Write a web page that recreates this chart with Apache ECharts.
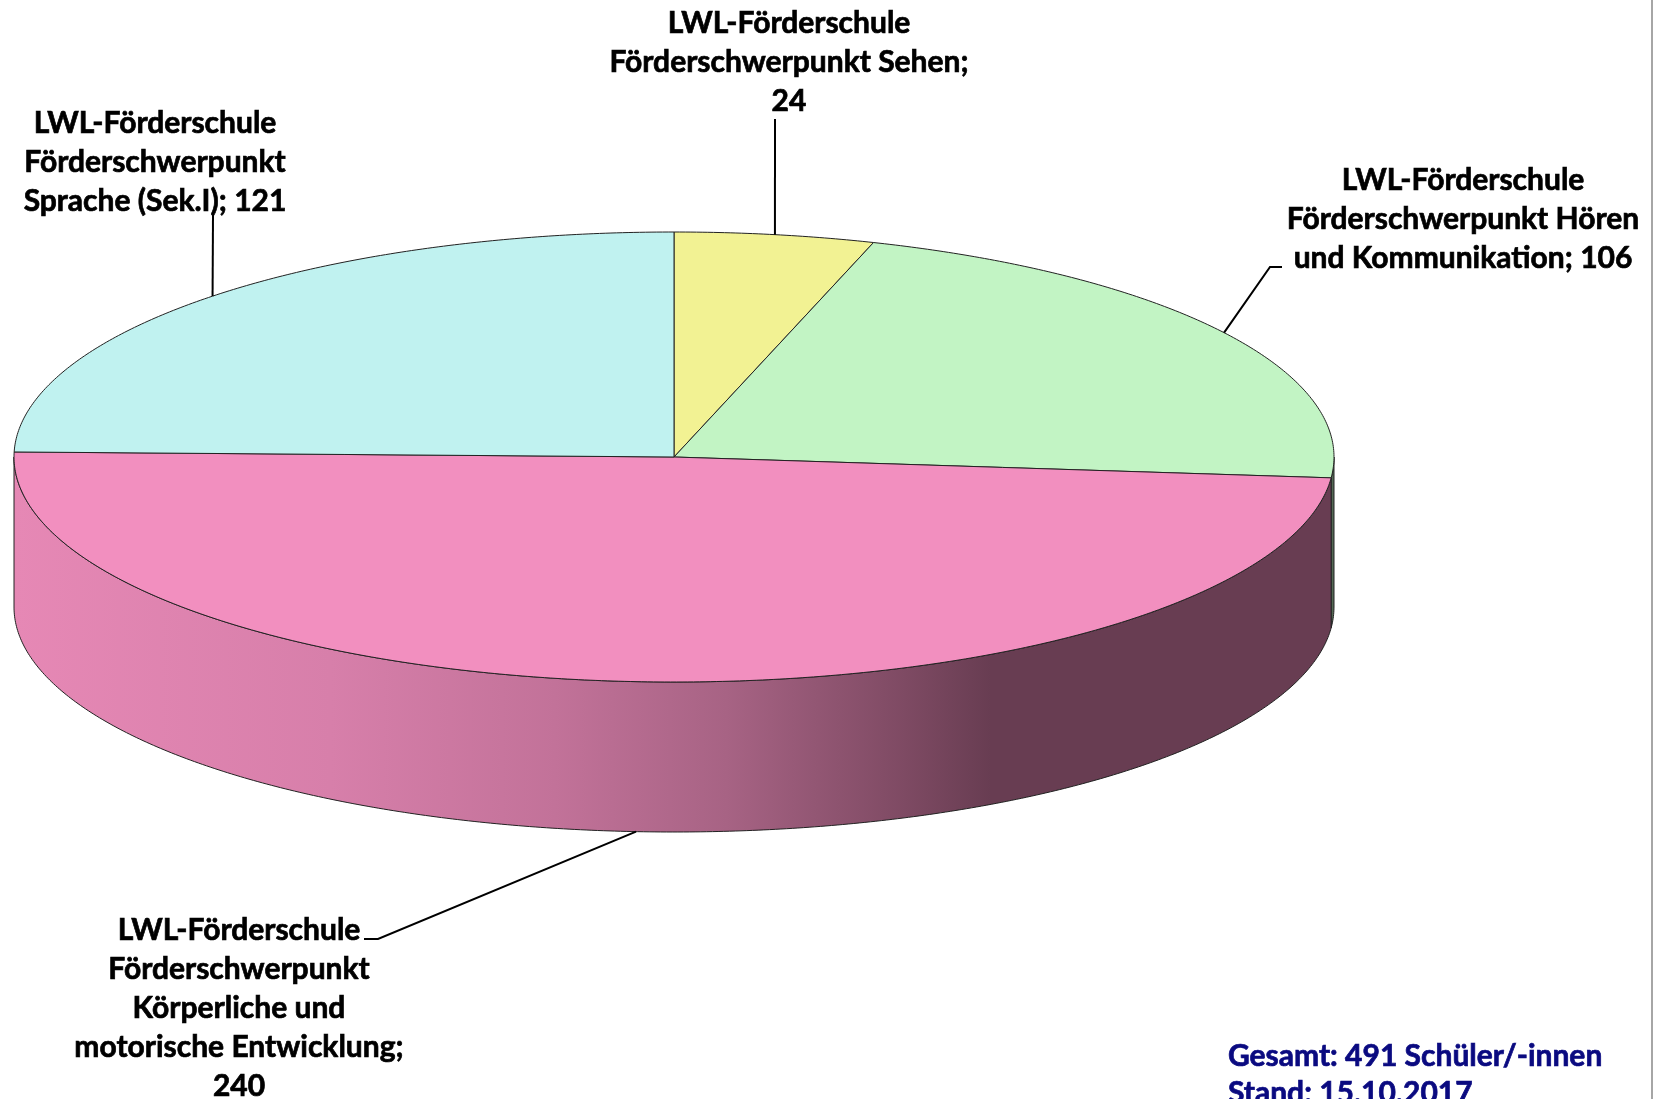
<!DOCTYPE html>
<html>
<head>
<meta charset="utf-8">
<title>LWL-Förderschulen</title>
<script src="https://cdn.jsdelivr.net/npm/echarts@6/dist/echarts.min.js"></script>
<style>
  html, body { margin: 0; padding: 0; background: #fff; }
  #chart { width: 1667px; height: 1099px; }
</style>
</head>
<body>
<div id="chart"></div>
<script>
// Schüler/-innen je LWL-Förderschule
var categories = [
  "LWL-Förderschule\nFörderschwerpunkt Sehen",
  "LWL-Förderschule\nFörderschwerpunkt Hören\nund Kommunikation",
  "LWL-Förderschule\nFörderschwerpunkt\nKörperliche und\nmotorische Entwicklung",
  "LWL-Förderschule\nFörderschwerpunkt\nSprache (Sek.I)"
];
var values = [24, 106, 240, 121];
var standDate = "15.10.2017";

// layout / style
var colors = ["#F2F293", "#C2F4C4", "#F28FBF", "#C0F2F0"];
var labelSep = ["\n", " ", "\n", " "];
var labelPos = [[789, 4], [1463, 161], [239, 911], [155, 104]];
var labelElbows = [
  [[775, 119]],
  [[1270, 267], [1282, 267]],
  [[378, 939], [364, 939]],
  [[213, 215]]
];

var CX = 674, CY = 457, RX = 660, RY = 225, DEPTH = 150;
var FONT = "bold 30px Lato";

var total = values.reduce(function (a, b) { return a + b; }, 0);
var starts = [];
var acc = 0;
values.forEach(function (v) { starts.push(acc / total * 360); acc += v; });

function pt(deg, dy) {
  var r = deg * Math.PI / 180;
  return [CX + RX * Math.sin(r), CY - RY * Math.cos(r) + (dy || 0)];
}
function arc(a0, a1, dy) {
  var pts = [];
  var n = Math.max(2, Math.ceil(Math.abs(a1 - a0) / 0.5));
  for (var i = 0; i <= n; i++) pts.push(pt(a0 + (a1 - a0) * i / n, dy));
  return pts;
}
function shade(hex, f) {
  var c = parseInt(hex.slice(1), 16);
  var r = Math.round(((c >> 16) & 255) * f), g = Math.round(((c >> 8) & 255) * f), b = Math.round((c & 255) * f);
  return "rgb(" + r + "," + g + "," + b + ")";
}
function sideFill(hex) {
  // Excel-artige Schattierung der Mantelfläche, hell links, dunkel rechts
  return {
    type: "linear", x: CX - RX, y: 0, x2: CX + RX, y2: 0, global: true,
    colorStops: [
      { offset: 0, color: shade(hex, 0.95) },
      { offset: 0.24, color: shade(hex, 0.89) },
      { offset: 0.41, color: shade(hex, 0.8) },
      { offset: 0.54, color: shade(hex, 0.69) },
      { offset: 0.675, color: shade(hex, 0.52) },
      { offset: 0.74, color: shade(hex, 0.43) },
      { offset: 1, color: shade(hex, 0.43) }
    ]
  };
}

var myChart = echarts.init(document.getElementById("chart"));

var option = {
  backgroundColor: "#ffffff",
  animation: false,
  graphic: [
    {
      type: "line",
      shape: { x1: 1652, y1: 0, x2: 1652, y2: 1099 },
      style: { stroke: "#a6a6a6", lineWidth: 2 }
    },
    {
      type: "text",
      style: {
        text: "Gesamt: " + total + " Schüler/-innen\nStand: " + standDate,
        x: 1228, y: 1038, align: "left", verticalAlign: "top",
        font: FONT, lineHeight: 37, fill: "#0a0a80",
        stroke: "#0a0a80", lineWidth: 0.7
      }
    }
  ],
  series: [
    {
      type: "custom",
      coordinateSystem: "none",
      silent: true,
      data: values,
      renderItem: function (params, api) {
        var i = params.dataIndex;
        var a0 = starts[i], a1 = a0 + values[i] / total * 360;
        var children = [];

        // Mantel (nur vorderer Bereich 90°..270°)
        var s = Math.max(a0, 90), e = Math.min(a1, 270);
        if (e > s) {
          children.push({
            type: "polygon", z2: 1,
            shape: { points: arc(s, e, 0).concat(arc(e, s, DEPTH)) },
            style: { fill: sideFill(colors[i]), stroke: "#222", lineWidth: 1 }
          });
        }

        // Deckfläche
        children.push({
          type: "polygon", z2: 2,
          shape: { points: [[CX, CY]].concat(arc(a0, a1, 0)) },
          style: { fill: colors[i], stroke: "#222", lineWidth: 1 }
        });

        // Führungslinie + Beschriftung
        var m = (a0 + a1) / 2;
        var front = Math.cos(m * Math.PI / 180) < 0;
        var anchor = pt(m, front ? DEPTH : 0);
        children.push({
          type: "polyline", z2: 3,
          shape: { points: [anchor].concat(labelElbows[i]) },
          style: { stroke: "#000", lineWidth: 2, fill: null }
        });
        children.push({
          type: "text", z2: 3,
          style: {
            text: categories[i] + ";" + labelSep[i] + values[i],
            x: labelPos[i][0], y: labelPos[i][1],
            align: "center", verticalAlign: "top",
            font: FONT, lineHeight: 39, fill: "#000",
            stroke: "#000", lineWidth: 0.7
          }
        });

        return { type: "group", children: children };
      }
    }
  ]
};

myChart.setOption(option);
window.onresize = function () {
  myChart.resize();
};
</script>
</body>
</html>
